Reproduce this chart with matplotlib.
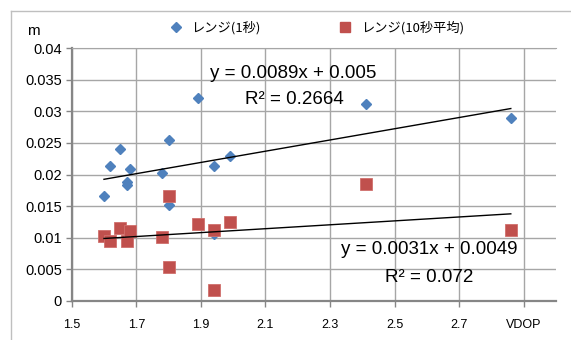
import numpy as np
import matplotlib
matplotlib.use("Agg")
import matplotlib.pyplot as plt
from matplotlib.lines import Line2D

# レンジ(1秒)
x_1s = [1.60, 1.62, 1.65, 1.67, 1.67, 1.68, 1.78, 1.80, 1.80, 1.89, 1.94, 1.94, 1.99, 2.41, 2.86]
y_1s = [0.0166, 0.0213, 0.0241, 0.0188, 0.0183, 0.0208, 0.0203, 0.0255, 0.0151, 0.0322,
        0.0214, 0.0105, 0.0229, 0.0312, 0.0289]

# レンジ(10秒平均)
x_10s = [1.60, 1.62, 1.65, 1.67, 1.68, 1.78, 1.80, 1.80, 1.89, 1.94, 1.94, 1.99, 2.41, 2.86]
y_10s = [0.0103, 0.0094, 0.0115, 0.0094, 0.0110, 0.0101, 0.0166, 0.0053, 0.0121, 0.0112,
         0.0017, 0.0125, 0.0185, 0.0112]

# trendline coefficients as printed on the chart
fit_1s = (0.0089, 0.005)
fit_10s = (0.0031, 0.0049)
label_1s = ["y = 0.0089x + 0.005", "R² = 0.2664"]
label_10s = ["y = 0.0031x + 0.0049", "R² = 0.072"]

xticks = [1.5, 1.7, 1.9, 2.1, 2.3, 2.5, 2.7, 2.9]
xticklabels = ["1.5", "1.7", "1.9", "2.1", "2.3", "2.5", "2.7", "VDOP"]
yticks = [0, 0.005, 0.01, 0.015, 0.02, 0.025, 0.03, 0.035, 0.04]
yticklabels = ["0", "0.005", "0.01", "0.015", "0.02", "0.025", "0.03", "0.035", "0.04"]

BLUE = "#4F81BD"
RED = "#C0504D"
GRID = "#A6A6A6"
JP = ["Noto Sans CJK JP", "DejaVu Sans"]
LAT = "Liberation Sans"

W, H = 571, 340
fig = plt.figure(figsize=(W / 100, H / 100), dpi=100)
ax = fig.add_axes([71.7 / W, 1 - 300.7 / H, (556 - 71.7) / W, (300.7 - 48.3) / H])

# outer chart-area frame (only top and left visible)
fig.add_artist(Line2D([10.5 / W, 10.5 / W], [1 - 10.5 / H, 0], transform=fig.transFigure,
                      color="#BFBFBF", lw=1))
fig.add_artist(Line2D([10.5 / W, 1], [1 - 10.5 / H, 1 - 10.5 / H], transform=fig.transFigure,
                      color="#BFBFBF", lw=1))

ax.set_xlim(1.5, 3.0)
ax.set_ylim(0, 0.04)
ax.set_xticks(xticks)
ax.set_xticklabels(xticklabels, fontsize=9, family=LAT)
ax.set_yticks(yticks)
ax.set_yticklabels(yticklabels, fontsize=10.5, family=LAT)
ax.grid(True, color=GRID, lw=1)
ax.set_axisbelow(True)
ax.spines["right"].set_visible(False)
ax.spines["top"].set_color(GRID)
ax.spines["left"].set_color("#868686")
ax.spines["bottom"].set_color("#868686")
ax.spines["left"].set_linewidth(1.6)
ax.spines["bottom"].set_linewidth(1.6)
ax.tick_params(axis="both", direction="out", color="#868686", width=1, length=4)
ax.tick_params(axis="x", pad=9)
ax.tick_params(axis="y", pad=3)

ax.plot(x_1s, y_1s, "D", color=BLUE, ms=5.2, mec=BLUE, zorder=3)
ax.plot(x_10s, y_10s, "s", color=RED, ms=8.2, mec="#D0706C", mew=0.6, zorder=4)

for xs, (a, b) in [(x_1s, fit_1s), (x_10s, fit_10s)]:
    xl = np.array([min(xs), max(xs)])
    ax.plot(xl, a * xl + b, color="black", lw=1, zorder=5)

# trendline labels (pixel positions from the reference)
def px(x, y):
    return x / W, 1 - y / H

fig.text(*px(293, 73), label_1s[0], ha="center", va="center", fontsize=13.5, family=LAT)
fig.text(*px(294, 99), label_1s[1], ha="center", va="center", fontsize=13.5, family=LAT)
fig.text(*px(429, 250), label_10s[0], ha="center", va="center", fontsize=13.5, family=LAT)
fig.text(*px(429, 277), label_10s[1], ha="center", va="center", fontsize=13.5, family=LAT)

fig.text(*px(33, 31), "m", ha="center", va="center", fontsize=11, family=LAT)

handles = [Line2D([], [], ls="", marker="D", color=BLUE, ms=5.2),
           Line2D([], [], ls="", marker="s", color=RED, ms=7)]
fig.legend(handles, ["レンジ(1秒)", "レンジ(10秒平均)"], loc="center",
           bbox_to_anchor=px(316, 28), ncol=2, frameon=False,
           prop={"family": JP, "size": 9.5}, handletextpad=0.6, columnspacing=5.8,
           handlelength=1.2)

fig.savefig("out.png", dpi=100)
